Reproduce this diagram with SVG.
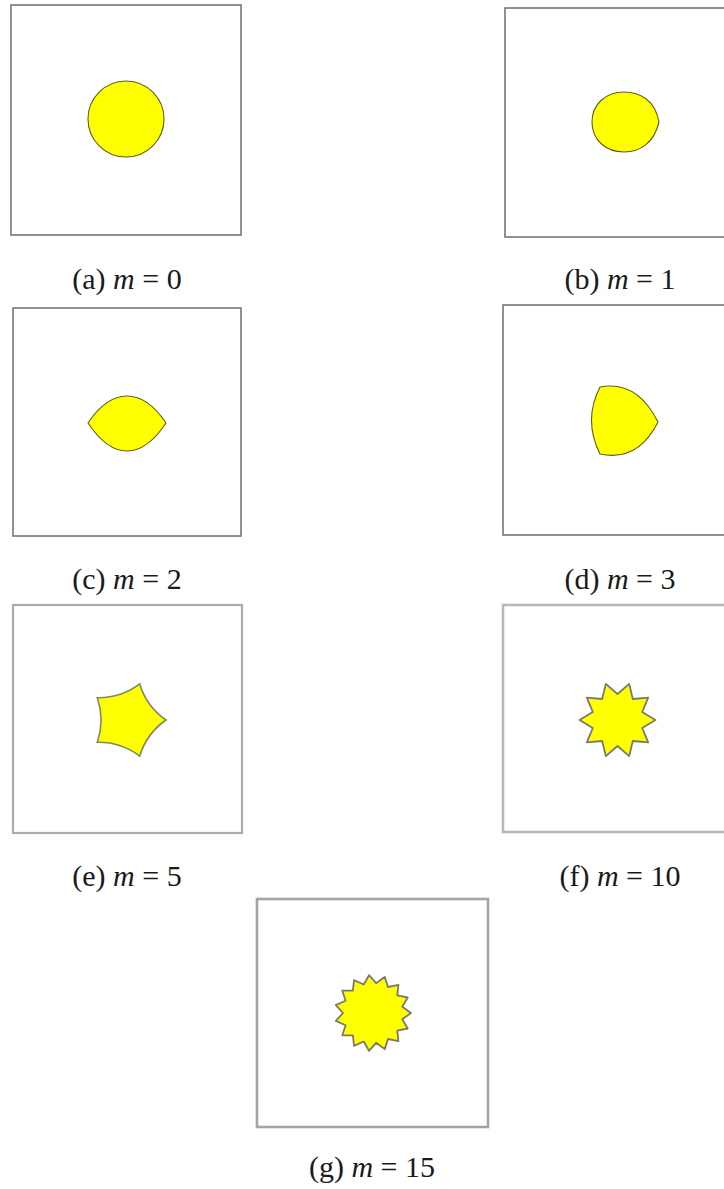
<svg xmlns="http://www.w3.org/2000/svg" width="724" height="1189" viewBox="0 0 724 1189">
<style>
.bg{fill:#ffffff}
.box1{fill:#ffffff;stroke:#6e6e6e;stroke-width:1.5}
.box2{fill:#ffffff;stroke:#ababab;stroke-width:2.2}
.sh1{fill:#ffff00;stroke:#5e5e22;stroke-width:1.1}
.sh2{fill:#ffff00;stroke:#858560;stroke-width:1.6}
.sh3{fill:#ffff00;stroke:#7a7a6a;stroke-width:1.8;stroke-linejoin:round}
.cap{font-family:"Liberation Serif","DejaVu Serif",serif;font-size:30px;fill:#1a1a1a;text-anchor:middle}
.it{font-style:italic}
</style>
<rect class="bg" x="0" y="0" width="724" height="1189"/>
<g id="panel-a">
<rect class="box1" x="11" y="5" width="230" height="230"/>
<circle class="sh1" cx="126" cy="119" r="38"/>
<text class="cap" x="127" y="289">(a) <tspan class="it">m</tspan> = 0</text>
</g>
<g id="panel-b">
<rect class="box1" x="505" y="8" width="240" height="229"/>
<path class="sh1" d="M659,122 C655,100 640,92 624,92 C606,92 592,104 592,122 C592,140 606,152 624,152 C640,152 654,143 659,122 Z"/>
<text class="cap" x="620" y="289">(b) <tspan class="it">m</tspan> = 1</text>
</g>
<g id="panel-c">
<rect class="box1" x="13" y="308" width="228" height="228"/>
<path class="sh1" d="M88,423 C100,405 112,396 127,396 C142,396 154,405 166,423 C154,441 142,451 127,451 C112,451 100,441 88,423 Z"/>
<text class="cap" x="127" y="589">(c) <tspan class="it">m</tspan> = 2</text>
</g>
<g id="panel-d">
<rect class="box1" x="503" y="305" width="240" height="230"/>
<path class="sh1" d="M600,387 Q637,380 658,422 Q638,462 600,454 Q583,420 600,387 Z"/>
<text class="cap" x="620" y="589">(d) <tspan class="it">m</tspan> = 3</text>
</g>
<g id="panel-e">
<rect class="box2" x="13" y="605" width="229" height="228"/>
<path class="sh2" d="M166,720 Q146.6,733.5 139.7,756.1 Q120.9,741.9 97.3,742.3 Q105,720 97.3,697.7 Q120.9,698.1 139.7,683.9 Q146.6,706.5 166,720 Z"/>
<text class="cap" x="127" y="886">(e) <tspan class="it">m</tspan> = 5</text>
</g>
<g id="panel-f">
<rect class="box2" x="503" y="605" width="240" height="227" style="stroke:#b8b8b8;stroke-width:2.6"/>
<polygon class="sh3" points="655.5,720 642.2,728 648.2,742.3 632.8,741 629.2,756.1 617.5,746 605.8,756.1 602.2,741 586.8,742.3 592.8,728 579.5,720 592.8,712 586.8,697.7 602.2,699 605.8,683.9 617.5,694 629.2,683.9 632.8,699 648.2,697.7 642.2,712"/>
<text class="cap" x="620" y="886">(f) <tspan class="it">m</tspan> = 10</text>
</g>
<g id="panel-g">
<rect class="box2" x="257" y="899" width="231" height="228" style="stroke:#a4a4a4;stroke-width:2.6"/>
<polygon class="sh3" points="411,1013 402.3,1019.2 407.7,1028.5 397.3,1030.6 398.4,1041.2 388,1039 384.7,1049.1 376.1,1042.8 369,1050.8 363.7,1041.5 354,1045.9 352.9,1035.3 342.3,1035.3 345.6,1025.2 335.8,1020.9 343,1013 335.8,1005.1 345.6,1000.8 342.3,990.7 352.9,990.7 354,980.1 363.7,984.5 369,975.2 376.1,983.2 384.7,976.9 388,987 398.4,984.8 397.3,995.4 407.7,997.5 402.3,1006.8"/>
<text class="cap" x="372" y="1177">(g) <tspan class="it">m</tspan> = 15</text>
</g>
</svg>
